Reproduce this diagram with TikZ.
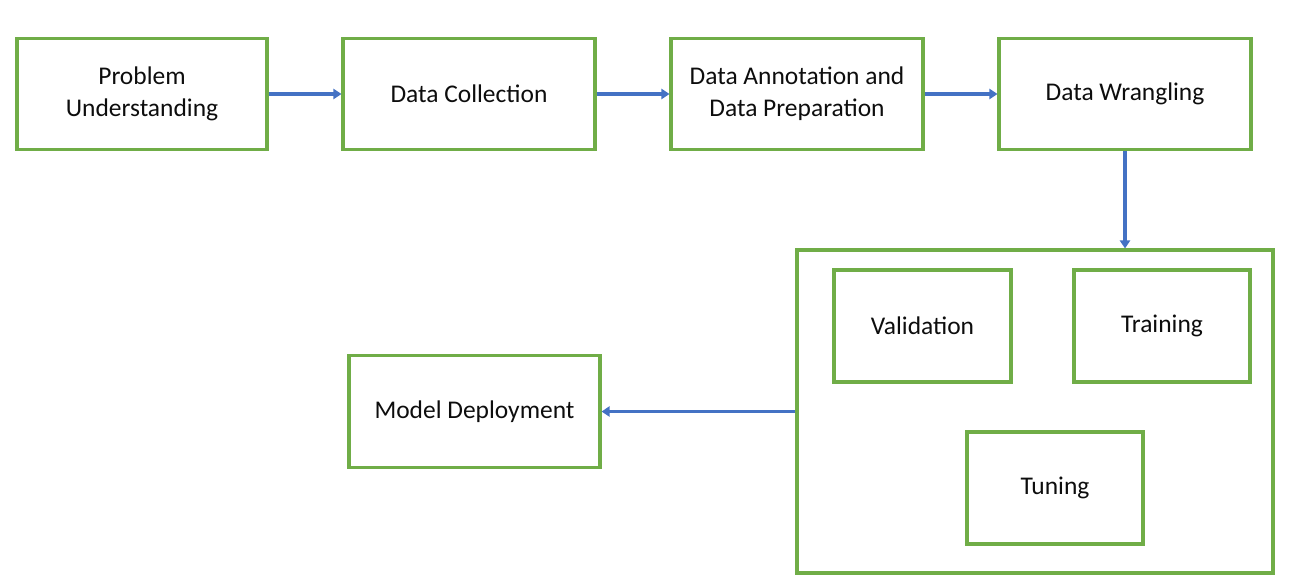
\documentclass[tikz,border=0pt]{standalone}
\usepackage{fontspec}
\setmainfont{Carlito}
\usetikzlibrary{arrows.meta}
\definecolor{boxgreen}{HTML}{70AD47}
\definecolor{arrowblue}{HTML}{4472C4}
\begin{document}
\begin{tikzpicture}[x=0.02cm,y=-0.02cm,
  box/.style={draw=boxgreen, line width=1.75pt, rectangle, align=center, inner sep=0pt,
    font=\fontsize{14.5}{18}\selectfont, text=black!95},
  conn/.style={draw=arrowblue, line width=2.1pt, -{Triangle[length=0.16cm,width=0.2cm]}}]
\useasboundingbox (0,0) rectangle (1299,585);
\node[box, minimum width=250*0.02cm, minimum height=111*0.02cm] (pu) at (142,94) {Problem\\Understanding};
\node[box, minimum width=252*0.02cm, minimum height=111*0.02cm] (dc) at (469,94) {Data Collection};
\node[box, minimum width=252*0.02cm, minimum height=111*0.02cm] (da) at (797,94) {Data Annotation and\\Data Preparation};
\node[box, minimum width=252*0.02cm, minimum height=111*0.02cm] (dw) at (1125,94) {Data Wrangling};
\node[box, minimum width=476*0.02cm, minimum height=323*0.02cm] (big) at (1035,411.5) {};
\node[box, minimum width=177*0.02cm, minimum height=112*0.02cm] (val) at (922.5,326) {Validation};
\node[box, minimum width=176*0.02cm, minimum height=112*0.02cm] (tr) at (1162,326) {Training};
\node[box, minimum width=176*0.02cm, minimum height=112*0.02cm] (tu) at (1055,488) {Tuning};
\node[box, minimum width=251*0.02cm, minimum height=112*0.02cm] (md) at (474.5,411.5) {Model Deployment};
\draw[conn] (pu.east) -- (dc.west);
\draw[conn] (dc.east) -- (da.west);
\draw[conn] (da.east) -- (dw.west);
\draw[conn] (dw.south) -- (big.north -| dw.south);
\draw[conn] (big.west) -- (md.east);
\end{tikzpicture}
\end{document}
